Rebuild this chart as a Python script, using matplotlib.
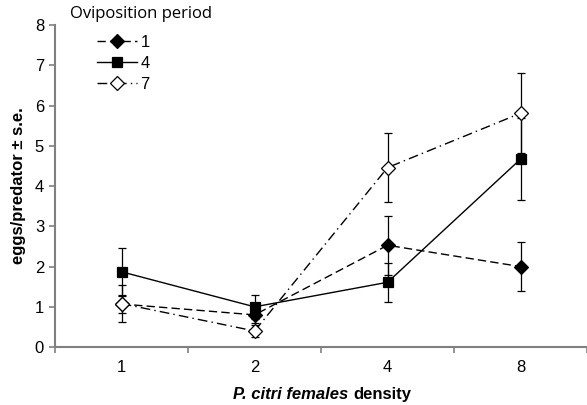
"""Eggs per predator vs P. citri female density, by oviposition period."""
import numpy as np
import matplotlib
matplotlib.use("Agg")
import matplotlib.pyplot as plt

densities = ["1", "2", "4", "8"]
periods = ["1", "4", "7"]
mean_p1 = [1.07, 0.80, 2.53, 2.00]
se_p1 = [0.23, 0.20, 0.73, 0.60]
mean_p4 = [1.87, 1.00, 1.61, 4.67]
se_p4 = [0.60, 0.29, 0.48, 1.02]
mean_p7 = [1.08, 0.40, 4.46, 5.81]
se_p7 = [0.46, 0.15, 0.85, 1.00]

plt.rcParams["font.family"] = ["Liberation Sans", "DejaVu Sans"]

fig = plt.figure(figsize=(5.87, 4.05), dpi=100)
ax = fig.add_axes([0.094, 0.143, 0.906, 0.795])
x = np.arange(1, len(densities) + 1)

styles = [
    (mean_p1, se_p1, "D", "black", (0, (6, 3))),
    (mean_p4, se_p4, "s", "black", "-"),
    (mean_p7, se_p7, "D", "white", (0, (7, 3, 1, 3))),
]
for lab, (m, s, mk, fc, ls) in zip(periods, styles):
    ax.errorbar(x, m, yerr=s, fmt="none", ecolor="black", elinewidth=0.9,
                capsize=3, capthick=0.9, zorder=2)
    ax.plot(x, m, color="black", lw=1.0, ls=ls, marker=mk, ms=7 if mk == "D" else 6.5,
            mfc=fc, mec="black", mew=0.9, label=lab, zorder=3)

ax.set_xlim(0.5, 4.5)
ax.set_ylim(0, 8)
ax.set_yticks(range(0, 9))
ax.set_xticks(np.arange(0.5, 4.6, 1.0))
ax.set_xticklabels([])
ax.set_xticks(x, minor=True)
ax.set_xticklabels(densities, minor=True)
ax.tick_params(axis="x", which="minor", length=0, pad=9, labelsize=12)
ax.tick_params(axis="x", which="major", length=4, color="#808080", width=1.2)
ax.tick_params(axis="y", length=4, color="#808080", width=1.2, labelsize=12, pad=4)

for side in ("top", "right"):
    ax.spines[side].set_visible(False)
for side in ("left", "bottom"):
    ax.spines[side].set_color("#808080")
    ax.spines[side].set_linewidth(1.5)

ax.set_ylabel("eggs/predator ± s.e.", fontsize=12, fontweight="bold", labelpad=6)

# x label: italic-bold species name followed by bold "density"
fig.canvas.draw()
r = fig.canvas.get_renderer()
t1 = fig.text(0, 0, "P. citri females ", fontsize=12, fontweight="bold", style="italic")
t2 = fig.text(0, 0, "density", fontsize=12, fontweight="bold")
w1 = t1.get_window_extent(r).width
w2 = t2.get_window_extent(r).width
x0 = 322 - (w1 + w2) / 2
t1.set_position((x0 / 587, 6 / 405))
t2.set_position(((x0 + w1) / 587, 6 / 405))

fig.text(70 / 587, 1 - 14 / 405, "Oviposition period", fontsize=12, va="center",
         family=["Open Sans", "DejaVu Sans"])
ax.legend(loc="upper left",
          bbox_to_anchor=(82 / 587 / 0.906 - 0.094 / 0.906, (405 - 20) / 405 / 0.795 - 0.143 / 0.795),
          frameon=False, fontsize=12, handlelength=2.4,
          handletextpad=0.2, labelspacing=0.35)

fig.savefig("out.png", dpi=100)
